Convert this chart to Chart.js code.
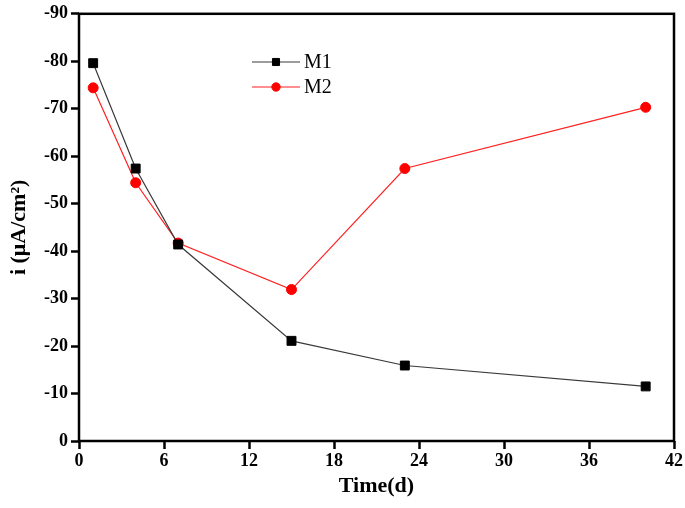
<!DOCTYPE html>
<html>
<head>
<meta charset="utf-8">
<script src="https://cdn.jsdelivr.net/npm/chart.js@4"></script>
<style>
html,body{margin:0;padding:0;background:#fff;}
#wrap{width:685px;height:508px;position:relative;}
</style>
</head>
<body>
<div id="wrap"><canvas id="c" width="685" height="508"></canvas></div>
<script>
const days = [1, 4, 7, 15, 23, 40];
const m1 = [-79.6, -57.4, -41.4, -21.1, -15.9, -11.5];
const m2 = [-74.4, -54.4, -41.7, -31.9, -57.4, -70.3];
const seriesNames = ['M1', 'M2'];
const xTicks = [0, 6, 12, 18, 24, 30, 36, 42];
const yTicks = [0, -10, -20, -30, -40, -50, -60, -70, -80, -90];

const FONT = "'Liberation Serif', 'Times New Roman', serif";

const boxPlugin = {
  id: 'box',
  afterDatasetsDraw(chart) {
    const a = chart.chartArea, ctx = chart.ctx;
    ctx.save();
    ctx.strokeStyle = '#000';
    ctx.lineWidth = 2.5;
    ctx.strokeRect(a.left, a.top, a.right - a.left, a.bottom - a.top);
    ctx.restore();
  }
};

const legendPlugin = {
  id: 'inLegend',
  afterDatasetsDraw(chart) {
    const ctx = chart.ctx;
    const x0 = 252, x1 = 300, ys = [62, 87];
    const legendRadius = [5, 4.2];
    ctx.save();
    chart.data.datasets.forEach((ds, i) => {
      const y = ys[i];
      ctx.strokeStyle = ds.borderColor;
      ctx.lineWidth = 1.2;
      ctx.beginPath(); ctx.moveTo(x0, y); ctx.lineTo(x1, y); ctx.stroke();
      ctx.fillStyle = ds.pointBackgroundColor;
      ctx.strokeStyle = ds.pointBorderColor;
      ctx.lineWidth = 1;
      Chart.helpers.drawPoint(ctx, {pointStyle: ds.pointStyle, radius: legendRadius[i], borderWidth: 1}, (x0 + x1) / 2, y);
      ctx.fillStyle = '#000';
      ctx.font = "20px " + FONT;
      ctx.textBaseline = 'middle';
      ctx.textAlign = 'left';
      ctx.fillText(ds.label, x1 + 4, y + 1);
    });
    ctx.restore();
  }
};

new Chart(document.getElementById('c'), {
  type: 'line',
  data: {
    datasets: [
      {
        label: seriesNames[0],
        data: days.map((d, i) => ({x: d, y: m1[i]})),
        borderColor: '#3a3a3a',
        borderWidth: 1.2,
        pointStyle: 'rect',
        pointRadius: 6.3,
        pointBackgroundColor: '#000',
        pointBorderColor: '#000',
        pointBorderWidth: 1,
        tension: 0
      },
      {
        label: seriesNames[1],
        data: days.map((d, i) => ({x: d, y: m2[i]})),
        borderColor: '#ff2020',
        borderWidth: 1.2,
        pointStyle: 'circle',
        pointRadius: 5,
        pointBackgroundColor: '#ff0000',
        pointBorderColor: '#ff0000',
        pointBorderWidth: 1,
        tension: 0
      }
    ]
  },
  options: {
    responsive: false,
    animation: false,
    layout: {padding: {left: 0, right: 11, top: 8, bottom: 0}},
    plugins: {legend: {display: false}, tooltip: {enabled: false}},
    scales: {
      x: {
        type: 'linear',
        min: 0, max: 42,
        afterBuildTicks(s) { s.ticks = xTicks.map(v => ({value: v})); },
        afterFit(s) { s.height = 67; },
        grid: {drawOnChartArea: false, drawTicks: true, tickLength: 8, tickWidth: 2.5, tickColor: '#000', color: '#000'},
        border: {display: false},
        ticks: {color: '#000', font: {family: FONT, size: 18, weight: 'bold'}, padding: 2, maxRotation: 0},
        title: {display: true, text: 'Time(d)', color: '#000', font: {family: FONT, size: 22, weight: 'bold'}, padding: {top: 0, bottom: 8}}
      },
      y: {
        type: 'linear',
        min: -90, max: 0,
        reverse: true,
        afterBuildTicks(s) { s.ticks = yTicks.map(v => ({value: v})); },
        afterFit(s) { s.width = 79; },
        grid: {drawOnChartArea: false, drawTicks: true, tickLength: 8, tickWidth: 2.5, tickColor: '#000', color: '#000'},
        border: {display: false},
        ticks: {color: '#000', font: {family: FONT, size: 18, weight: 'bold'}, padding: 3},
        title: {display: true, text: 'i (μA/cm²)', color: '#000', font: {family: FONT, size: 22, weight: 'bold'}, padding: {top: 6, bottom: 0}}
      }
    }
  },
  plugins: [boxPlugin, legendPlugin]
});
</script>
</body>
</html>
